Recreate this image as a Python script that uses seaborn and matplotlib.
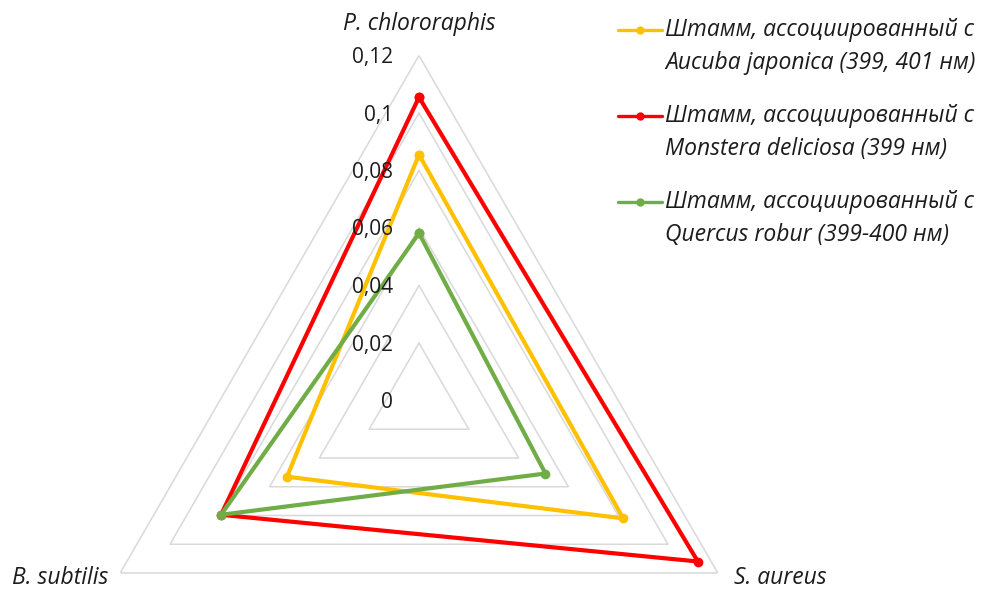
import numpy as np
import pandas as pd
import matplotlib
matplotlib.use('Agg')
import matplotlib.pyplot as plt
from matplotlib.lines import Line2D
from matplotlib.transforms import offset_copy
import seaborn as sns

# values
categories = ['P. chlororaphis', 'S. aureus', 'B. subtilis']
aucuba = [0.0855, 0.082, 0.053]
monstera = [0.1055, 0.112, 0.0795]
quercus = [0.0582, 0.0508, 0.0795]

series_names = ['Aucuba japonica', 'Monstera deliciosa', 'Quercus robur']
legend_line1 = 'Штамм, ассоциированный с'
legend_line2 = ['Aucuba japonica (399, 401 нм)',
                'Monstera deliciosa (399 нм)',
                'Quercus robur (399-400 нм)']
colors = ['#FFC000', '#FF0000', '#70AD47']

r_ticks = [0, 0.02, 0.04, 0.06, 0.08, 0.1, 0.12]
r_tick_labels = ['0', '0,02', '0,04', '0,06', '0,08', '0,1', '0,12']

sns.set_theme(style='white')
plt.rcParams['font.family'] = ['Open Sans', 'DejaVu Sans']
text_color = '#1c1c1c'

W, H = 990, 590
fig = plt.figure(figsize=(W / 100, H / 100), dpi=100)

# polar axes placed so that the chart centre sits at (419, 400) px, radius 345 px
cx, cy, R = 419, 400.5, 345
ax = fig.add_axes([(cx - R) / W, (H - cy - R) / H, 2 * R / W, 2 * R / H],
                  projection='polar')
ax.set_theta_zero_location('N')
ax.set_theta_direction(-1)
ax.set_ylim(0, 0.12)
ax.set_xticks([])
ax.set_yticks([])
ax.grid(False)
ax.spines['polar'].set_visible(False)
ax.patch.set_alpha(0)

n = len(categories)
angles = [2 * np.pi * i / n for i in range(n + 1)]

# triangular gridlines
for r in r_ticks[1:]:
    ax.plot(angles, [r] * (n + 1), color='#D9D9D9', lw=1.1, zorder=0)

rows = []
for name, vals in zip(series_names, [aucuba, monstera, quercus]):
    closed = vals + vals[:1]
    for a, v in zip(angles, closed):
        rows.append({'series': name, 'theta': a, 'value': v})
df = pd.DataFrame(rows)

sns.lineplot(data=df, x='theta', y='value', hue='series', hue_order=series_names,
             palette=dict(zip(series_names, colors)), sort=False, estimator=None,
             marker='o', markersize=7, markeredgewidth=0, linewidth=3,
             legend=False, ax=ax)
ax.set_xlabel('')
ax.set_ylabel('')

# radial tick labels along the top spoke
tick_tr = offset_copy(ax.transData, fig=fig, x=-26, y=-2, units='dots')
for r, lab in zip(r_ticks, r_tick_labels):
    ax.text(0, r, lab, transform=tick_tr, ha='right', va='center',
            fontsize=15, color=text_color)

# category labels
cat_style = [
    dict(ha='center', va='center', x=0, y=31),
    dict(ha='left', va='center', x=16, y=-5),
    dict(ha='right', va='center', x=-12, y=-5),
]
for i, (cat, st) in enumerate(zip(categories, cat_style)):
    tr = offset_copy(ax.transData, fig=fig, x=st['x'], y=st['y'], units='dots')
    ax.text(angles[i], 0.12, cat, transform=tr, ha=st['ha'], va=st['va'],
            fontsize=16.5, style='italic', color=text_color)

# legend drawn by hand: handle beside the first line of each two-line label
for i, (col, line2) in enumerate(zip(colors, legend_line2)):
    y = 30 + i * 86
    fy = 1 - y / H
    fig.add_artist(Line2D([618 / W, 662 / W], [fy, fy], transform=fig.transFigure,
                          color=col, lw=2.4))
    fig.add_artist(Line2D([640 / W], [fy], transform=fig.transFigure, color=col,
                          marker='o', markersize=6, markeredgewidth=0))
    fig.text(665 / W, fy, legend_line1, ha='left', va='center', fontsize=16.5,
             style='italic', color=text_color)
    fig.text(665 / W, 1 - (y + 33) / H, line2, ha='left', va='center', fontsize=16.5,
             style='italic', color=text_color)

fig.savefig('out.png', dpi=100)
